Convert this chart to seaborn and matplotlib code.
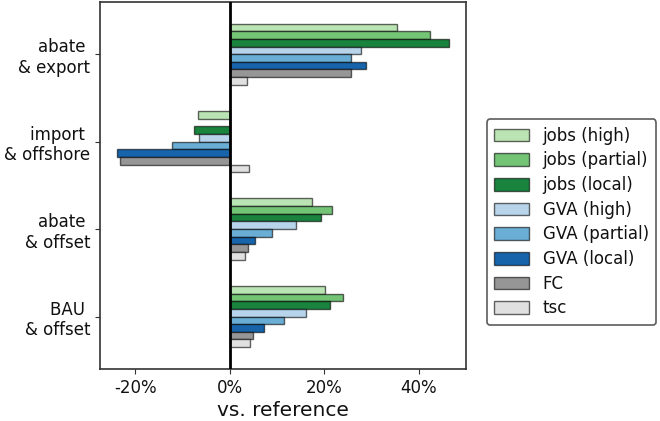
import numpy as np
import pandas as pd
import matplotlib.pyplot as plt
import seaborn as sns
from matplotlib.ticker import FuncFormatter

sns.set_style("ticks")
plt.rcParams["font.family"] = ["DejaVu Sans"]
plt.rcParams["text.color"] = "#111111"
plt.rcParams["axes.labelcolor"] = "#111111"
plt.rcParams["xtick.color"] = "#111111"
plt.rcParams["ytick.color"] = "#111111"

# ---------------------------------------------------------------------------
# data (percent vs. reference)
# ---------------------------------------------------------------------------
scenarios = ["abate \n& export", "import \n& offshore", "abate \n& offset", "BAU \n& offset"]
series = ["jobs (high)", "jobs (partial)", "jobs (local)",
          "GVA (high)", "GVA (partial)", "GVA (local)", "FC", "tsc"]

jobs_high = [35.3, -6.8, 17.4, 20.2]
jobs_partial = [42.3, 0.0, 21.6, 23.9]
jobs_local = [46.4, -7.5, 19.4, 21.2]
gva_high = [27.7, -6.6, 14.0, 16.2]
gva_partial = [25.6, -12.3, 8.9, 11.4]
gva_local = [28.9, -23.9, 5.3, 7.2]
fc = [25.6, -23.3, 3.8, 4.9]
tsc = [3.7, 4.1, 3.2, 4.2]

colors = ["#bae4b3", "#74c476", "#1a843e",
          "#b7d4ea", "#6aaed6", "#1764ab", "#969696", "#e0e0e0"]

values = [jobs_high, jobs_partial, jobs_local, gva_high,
          gva_partial, gva_local, fc, tsc]
rows = []
for name, vals in zip(series, values):
    for sc, v in zip(scenarios, vals):
        rows.append({"scenario": sc, "series": name, "value": v})
df = pd.DataFrame(rows)

# ---------------------------------------------------------------------------
# plot
# ---------------------------------------------------------------------------
fig = plt.figure(figsize=(6.6, 4.21), dpi=100)
ax = fig.add_axes([0.1515, 0.1235, 0.5545, 0.8725])

sns.barplot(data=df, y="scenario", x="value", hue="series",
            hue_order=series, order=scenarios, palette=colors,
            saturation=1, orient="h", width=0.7,
            edgecolor=(0, 0, 0, 0.6), linewidth=1, ax=ax)

ax.axvline(0, color="black", lw=2, zorder=5)
ax.set_xlim(-27.5, 50)
ax.set_ylim(3.6, -0.6)
ax.set_xticks([-20, 0, 20, 40])
ax.xaxis.set_major_formatter(FuncFormatter(lambda v, p: f"{v:.0f}%"))
ax.set_xlabel("vs. reference", fontsize=14.5, labelpad=3)
ax.set_ylabel("")
ax.tick_params(labelsize=12, color="#333333")
for lab in ax.get_yticklabels():
    lab.set_horizontalalignment("right")
for sp in ax.spines.values():
    sp.set_visible(True)
    sp.set_color("#333333")
    sp.set_linewidth(1.2)

leg = ax.legend(loc="center left", bbox_to_anchor=(1.057, 0.40),
                borderaxespad=0, fontsize=12, frameon=True,
                handlelength=2.1, handleheight=0.8, handletextpad=0.8,
                labelspacing=0.4, borderpad=0.45)
leg.get_frame().set_edgecolor("#333333")
leg.get_frame().set_linewidth(1.2)

fig.savefig("out.png", dpi=100)
